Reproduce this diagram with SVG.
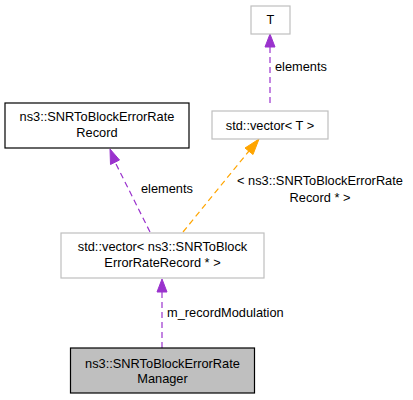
<svg xmlns="http://www.w3.org/2000/svg" width="413" height="400" viewBox="0 0 413 400">
<defs>
<style>
text{font-family:"Liberation Sans",Arial,Helvetica,sans-serif;font-size:12.8px;fill:#000}
.c{text-anchor:middle}
.gray{fill:#fff;stroke:#bfbfbf;stroke-width:1.2}
.blk{fill:#fff;stroke:#000;stroke-width:1.2}
.cur{fill:#bfbfbf;stroke:#000;stroke-width:1.2}
.ep{fill:none;stroke:#9a32cd;stroke-width:1.2;stroke-dasharray:6,4}
.eo{fill:none;stroke:#ffa500;stroke-width:1.2;stroke-dasharray:6,4}
.hp{fill:#9a32cd;stroke:#9a32cd}
.ho{fill:#ffa500;stroke:#ffa500}
</style>
</defs>
<rect width="413" height="400" fill="#fff"/>
<g id="connectors">
<path class="ep" d="M270,103 L270,47"/>
<polygon class="hp" points="265,47 275,47 270,34"/>
<text x="275" y="71">elements</text>
<path class="ep" d="M150,232 L115,162"/>
<polygon class="hp" points="110.5,164.5 119.5,160 110,149"/>
<text x="141" y="193">elements</text>
<path class="eo" d="M183,232 L249,151"/>
<polygon class="ho" points="245,148 253,154.5 259,139"/>
<text x="320" y="185" class="c">&lt; ns3::SNRToBlockErrorRate</text>
<text x="320" y="202" class="c">Record * &gt;</text>
<path class="ep" d="M162,348 L162,292"/>
<polygon class="hp" points="157,292 167,292 162,279"/>
<text x="167" y="317">m_recordModulation</text>
</g>
<g id="node-T">
<rect class="gray" x="251" y="6" width="39" height="28"/>
<text x="270.5" y="23.5" class="c">T</text>
</g>
<g id="node-vectorT">
<rect class="gray" x="212" y="111" width="116" height="28"/>
<text x="270" y="129.5" class="c">std::vector&lt; T &gt;</text>
</g>
<g id="node-Record">
<rect class="blk" x="5" y="103" width="184" height="45"/>
<text x="97" y="120.5" class="c">ns3::SNRToBlockErrorRate</text>
<text x="97" y="136.5" class="c">Record</text>
</g>
<g id="node-vectorRec">
<rect class="gray" x="61" y="233" width="203" height="45"/>
<text x="162.5" y="250.5" class="c">std::vector&lt; ns3::SNRToBlock</text>
<text x="162.5" y="266.5" class="c">ErrorRateRecord * &gt;</text>
</g>
<g id="node-Manager">
<rect class="cur" x="70.5" y="348" width="184" height="45"/>
<text x="162.5" y="367.5" class="c">ns3::SNRToBlockErrorRate</text>
<text x="162.5" y="383" class="c">Manager</text>
</g>
</svg>
